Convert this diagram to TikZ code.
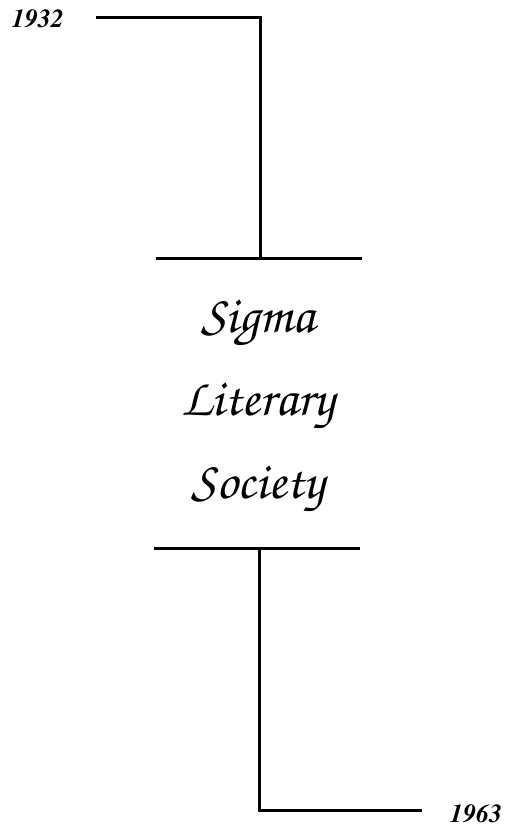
\documentclass[tikz,border=0pt]{standalone}
\usepackage{tikz}
\usetikzlibrary{calc}
\newcommand{\chancery}{\usefont{T1}{pzc}{m}{it}}
\newcommand{\yearfont}{\usefont{T1}{ptm}{b}{it}}
\tikzset{
  year/.style={font=\fontsize{26}{28}\yearfont, inner sep=0pt},
  rule/.style={line width=3pt},
}
\begin{document}
\begin{tikzpicture}[x=1pt,y=-1pt]
  \useasboundingbox (0,0) rectangle (509,828);
  % top branch
  \node[year] (start) at (38,19) {1932};
  \coordinate (startline) at (96,17);
  \coordinate (topbend) at (260,17);
  \coordinate (topjoin) at (260,258);
  \coordinate (topleft) at (156,258);
  \coordinate (topright) at (362,258);
  \draw[rule] (startline) -- (topbend) -- (topjoin);
  \draw[rule] (topleft) -- (topright);
  % name
  \node[font=\fontsize{53}{83}\chancery, align=center, inner sep=0pt] (name) at (258,407)
    {Sigma\\Literary\\Society};
  % bottom branch
  \coordinate (botleft) at (154,548);
  \coordinate (botright) at (360,548);
  \coordinate (botjoin) at (259,548);
  \coordinate (botbend) at (259,810);
  \coordinate (endline) at (422,810);
  \draw[rule] (botleft) -- (botright);
  \draw[rule] (botjoin) -- (botbend) -- (endline);
  \node[year] (finish) at (476,814) {1963};
\end{tikzpicture}
\end{document}
